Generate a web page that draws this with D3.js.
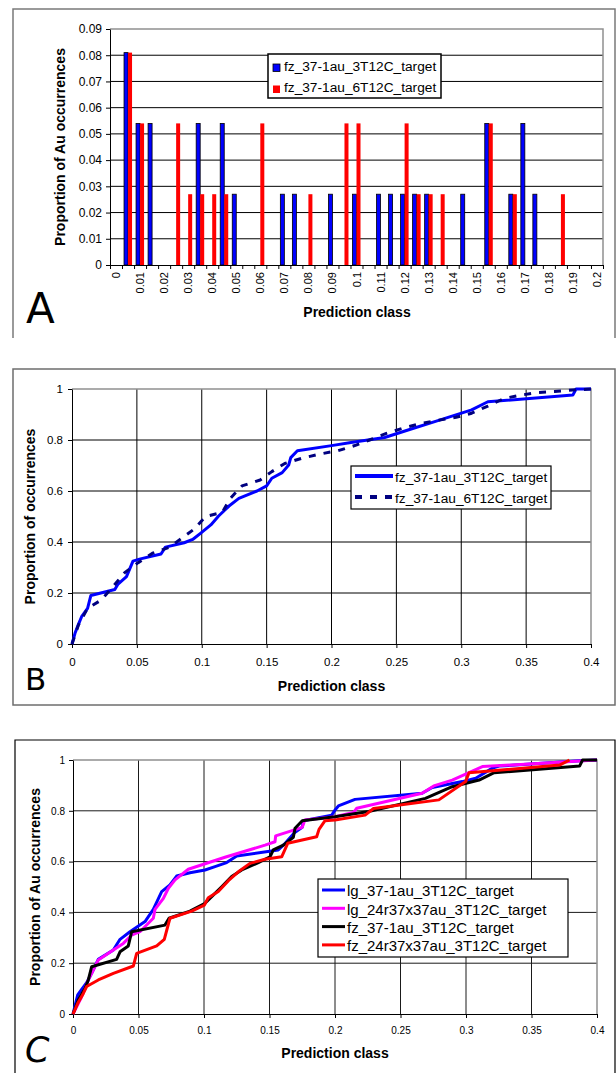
<!DOCTYPE html>
<html>
<head>
<meta charset="utf-8">
<script src="https://cdn.jsdelivr.net/npm/d3@7/dist/d3.min.js"></script>
<style>
body { margin: 0; background: #fff; }
svg { display: block; font-family: Arial, "Liberation Sans", sans-serif; }
.axis text { fill: #000; }
.axis path, .axis line { stroke: #000; }
</style>
</head>
<body>
<svg id="chart" width="616" height="1073"></svg>
<script>
// ---- Panel A : proportion of Au occurrences per prediction class
var classesA = [0, 0.005, 0.01, 0.015, 0.02, 0.025, 0.03, 0.035, 0.04, 0.045,
                0.05, 0.055, 0.06, 0.065, 0.07, 0.075, 0.08, 0.085, 0.09, 0.095,
                0.1, 0.105, 0.11, 0.115, 0.12, 0.125, 0.13, 0.135, 0.14, 0.145,
                0.15, 0.155, 0.16, 0.165, 0.17, 0.175, 0.18, 0.185, 0.19, 0.195, 0.2];
var fz3T12C_A = [0, 0.081, 0.054, 0.054, 0, 0, 0, 0.054, 0, 0.054,
                 0.027, 0, 0, 0, 0.027, 0.027, 0, 0, 0.027, 0,
                 0.027, 0, 0.027, 0.027, 0.027, 0.027, 0.027, 0, 0, 0.027,
                 0, 0.054, 0, 0.027, 0.054, 0.027, 0, 0, 0, 0, 0];
var fz6T12C_A = [0, 0.081, 0.054, 0, 0, 0.054, 0.027, 0.027, 0.027, 0.027,
                 0, 0, 0.054, 0, 0, 0, 0.027, 0, 0, 0.054,
                 0.054, 0, 0, 0, 0.054, 0.027, 0.027, 0.027, 0, 0,
                 0, 0.054, 0, 0.027, 0, 0, 0, 0.027, 0, 0, 0];
var yTicksA = [0, 0.01, 0.02, 0.03, 0.04, 0.05, 0.06, 0.07, 0.08, 0.09];
var seriesA = ["fz_37-1au_3T12C_target", "fz_37-1au_6T12C_target"];

// ---- Panel B : cumulative proportion of occurrences
var fz3T12C_B = [[0,0],[0.0023,0.042],[0.0048,0.075],[0.0074,0.107],[0.012,0.14],[0.0145,0.19],
  [0.033,0.214],[0.0355,0.235],[0.042,0.264],[0.047,0.325],[0.052,0.333],[0.0686,0.353],
  [0.072,0.38],[0.0865,0.397],[0.093,0.41],[0.099,0.434],[0.107,0.467],[0.113,0.502],
  [0.121,0.541],[0.1286,0.571],[0.1426,0.6],[0.15,0.62],[0.154,0.65],[0.162,0.672],
  [0.167,0.702],[0.1686,0.731],[0.1737,0.758],[0.2,0.778],[0.215,0.79],[0.241,0.81],
  [0.259,0.839],[0.282,0.876],[0.308,0.918],[0.3205,0.95],[0.386,0.976],[0.3885,1],[0.4,1]];
var fz6T12C_B = [[0,0],[0.005,0.075],[0.012,0.14],[0.0227,0.173],[0.0316,0.225],[0.0406,0.28],
  [0.051,0.319],[0.062,0.356],[0.075,0.379],[0.094,0.45],[0.103,0.5],[0.1158,0.516],
  [0.122,0.571],[0.131,0.62],[0.145,0.643],[0.154,0.676],[0.164,0.708],[0.177,0.728],
  [0.191,0.745],[0.205,0.758],[0.219,0.78],[0.2308,0.803],[0.2423,0.826],[0.255,0.846],
  [0.269,0.865],[0.283,0.878],[0.296,0.889],[0.308,0.905],[0.3205,0.933],[0.333,0.963],
  [0.346,0.976],[0.359,0.986],[0.372,0.99],[0.386,0.996],[0.4,1]];
var seriesB = ["fz_37-1au_3T12C_target", "fz_37-1au_6T12C_target"];

// ---- Panel C : cumulative proportion of Au occurrences, 4 models
var lg37_C = [[0,0],[0.0036,0.075],[0.0066,0.097],[0.0104,0.123],[0.0142,0.16],[0.0193,0.215],
  [0.0308,0.252],[0.0359,0.294],[0.0435,0.324],[0.055,0.364],[0.0613,0.412],[0.0677,0.482],
  [0.074,0.508],[0.0791,0.543],[0.0893,0.556],[0.1008,0.567],[0.1084,0.58],[0.1173,0.596],
  [0.125,0.622],[0.1567,0.646],[0.162,0.672],[0.169,0.714],[0.175,0.735],[0.1758,0.761],
  [0.1975,0.783],[0.2,0.803],[0.2026,0.819],[0.2153,0.845],[0.2665,0.869],[0.2742,0.892],
  [0.2972,0.915],[0.3074,0.928],[0.3202,0.968],[0.3253,0.976],[0.3867,0.997],[0.4,1]];
var lg24_C = [[0,0],[0.0066,0.068],[0.0117,0.134],[0.0155,0.173],[0.0193,0.213],[0.027,0.239],
  [0.0384,0.278],[0.0448,0.311],[0.0511,0.324],[0.0613,0.377],[0.0626,0.412],[0.069,0.455],
  [0.0728,0.495],[0.0779,0.528],[0.088,0.57],[0.116,0.617],[0.1466,0.665],[0.1542,0.678],
  [0.1547,0.701],[0.175,0.735],[0.177,0.764],[0.2,0.777],[0.2141,0.793],[0.2166,0.81],
  [0.2665,0.869],[0.2754,0.898],[0.2895,0.921],[0.3125,0.974],[0.4,1]];
var fz37_C = [[0,0],[0.004,0.055],[0.0092,0.101],[0.0117,0.134],[0.0142,0.186],[0.0333,0.215],
  [0.0359,0.245],[0.0422,0.268],[0.0448,0.324],[0.0702,0.35],[0.0733,0.377],[0.0893,0.405],
  [0.1008,0.436],[0.1084,0.475],[0.1135,0.501],[0.1211,0.541],[0.1288,0.567],[0.1415,0.596],
  [0.1504,0.619],[0.1529,0.646],[0.1606,0.665],[0.1682,0.696],[0.1695,0.731],[0.175,0.761],
  [0.2,0.777],[0.2256,0.797],[0.269,0.849],[0.2895,0.895],[0.31,0.921],[0.3215,0.95],
  [0.3867,0.976],[0.389,1],[0.4,1]];
var fz24_C = [[0,0],[0.0036,0.042],[0.0079,0.081],[0.0104,0.108],[0.0193,0.134],[0.0308,0.16],
  [0.0461,0.189],[0.0486,0.239],[0.0639,0.268],[0.0697,0.294],[0.074,0.377],[0.0906,0.405],
  [0.1003,0.429],[0.1033,0.458],[0.1109,0.482],[0.1186,0.525],[0.1262,0.56],[0.1351,0.593],
  [0.1466,0.609],[0.1593,0.619],[0.1639,0.672],[0.186,0.698],[0.1878,0.727],[0.1924,0.761],
  [0.2,0.764],[0.223,0.783],[0.2294,0.809],[0.2793,0.843],[0.2997,0.915],[0.3023,0.95],
  [0.3714,0.98],[0.379,1]];
var seriesC = ["lg_37-1au_3T12C_target", "lg_24r37x37au_3T12C_target",
               "fz_37-1au_3T12C_target", "fz_24r37x37au_3T12C_target"];

var xTicksBC = [0, 0.05, 0.1, 0.15, 0.2, 0.25, 0.3, 0.35, 0.4];
var yTicksBC = [0, 0.2, 0.4, 0.6, 0.8, 1];

var svg = d3.select("#chart");
var plotBorder = "#909090";

// ---------------------------------------------------------------- Panel A
var panelA = svg.append("g");

panelA.append("path")
	.attr("d", "M13,338 V9 H615 V338")
	.attr("fill", "none")
	.attr("stroke", "#7a7a7a")
	.attr("stroke-width", 1.5);

var xA = d3.scaleBand()
	.domain(classesA)
	.range([110, 603]);
var xEdgeA = d3.scaleLinear()
	.domain([0, classesA.length])
	.range([110, 603]);
var xSubA = d3.scaleBand()
	.domain([0, 1])
	.range([xA.bandwidth() / 6, xA.bandwidth() * 5 / 6]);
var yA = d3.scaleLinear()
	.domain([0, 0.09])
	.range([265, 29]);

// grid lines
panelA.append("g").selectAll("line")
	.data(yTicksA.slice(1, -1))
	.enter().append("line")
	.attr("x1", 110).attr("x2", 603)
	.attr("y1", function(d) { return yA(d); })
	.attr("y2", function(d) { return yA(d); })
	.attr("stroke", "#000")
	.attr("stroke-width", 1);

panelA.append("path")
	.attr("d", "M110," + yA(0.09) + " H603 V265")
	.attr("fill", "none")
	.attr("stroke", plotBorder)
	.attr("stroke-width", 1.5);

// bars
var barsA = [
	{ values: fz3T12C_A, fill: "#0000ff", stroke: "#000" },
	{ values: fz6T12C_A, fill: "#ff0000", stroke: "none" }
];
barsA.forEach(function(s, si) {
	panelA.append("g").selectAll("rect")
		.data(s.values.map(function(v, i) { return { c: classesA[i], v: v }; })
			.filter(function(d) { return d.v > 0; }))
		.enter().append("rect")
		.attr("x", function(d) { return xA(d.c) + xSubA(si); })
		.attr("y", function(d) { return yA(d.v); })
		.attr("width", xSubA.bandwidth())
		.attr("height", function(d) { return yA(0) - yA(d.v); })
		.attr("fill", s.fill)
		.attr("stroke", s.stroke)
		.attr("stroke-width", 0.8);
});

// axes
panelA.append("g")
	.attr("class", "axis")
	.attr("transform", "translate(110,0)")
	.call(d3.axisLeft(yA).tickValues(yTicksA).tickSize(4).tickSizeOuter(0).tickPadding(4)
		.tickFormat(function(d) { return String(d); }))
	.selectAll("text").style("font-size", "12px");

panelA.append("g")
	.attr("class", "axis")
	.attr("transform", "translate(0,265)")
	.call(d3.axisBottom(xEdgeA).tickValues(d3.range(classesA.length + 1)).tickSize(4)
		.tickSizeOuter(0).tickFormat(""));

panelA.append("g").selectAll("text")
	.data(classesA.filter(function(d, i) { return i % 2 === 0; }))
	.enter().append("text")
	.attr("transform", function(d) {
		return "translate(" + (xA(d) + xA.bandwidth() / 2 + 4) + ",272) rotate(-90)";
	})
	.attr("text-anchor", "end")
	.style("font-size", "11px")
	.text(function(d) { return String(d); });

panelA.append("text")
	.attr("x", 357).attr("y", 317)
	.attr("text-anchor", "middle")
	.style("font-size", "14px").style("font-weight", "bold")
	.text("Prediction class");

panelA.append("text")
	.attr("transform", "translate(64.5,147) rotate(-90)")
	.attr("text-anchor", "middle")
	.style("font-size", "14px").style("font-weight", "bold")
	.text("Proportion of Au occurrences");

// legend
var legA = panelA.append("g");
legA.append("rect")
	.attr("x", 268).attr("y", 54).attr("width", 173).attr("height", 44)
	.attr("fill", "#fff").attr("stroke", "#000").attr("stroke-width", 1.5);
barsA.forEach(function(s, si) {
	legA.append("rect")
		.attr("x", 273).attr("y", 64 + si * 21.5).attr("width", 7).attr("height", 7.5)
		.attr("fill", s.fill).attr("stroke", s.stroke).attr("stroke-width", 0.8);
	legA.append("text")
		.attr("x", 284).attr("y", 71 + si * 21)
		.style("font-size", "13.7px")
		.text(seriesA[si]);
});

panelA.append("text")
	.attr("x", 26).attr("y", 323)
	.style("font-family", "'DejaVu Sans', sans-serif")
	.style("font-size", "42px")
	.text("A");

// ---------------------------------------------------------- Panels B and C
function drawCumulative(g, cfg) {
	var x = d3.scaleLinear().domain([0, 0.4]).range([cfg.left, cfg.right]);
	var y = d3.scaleLinear().domain([0, 1]).range([cfg.bottom, cfg.top]);

	g.append("g").selectAll("line")
		.data(yTicksBC.slice(1, -1))
		.enter().append("line")
		.attr("x1", cfg.left).attr("x2", cfg.right)
		.attr("y1", function(d) { return y(d); })
		.attr("y2", function(d) { return y(d); })
		.attr("stroke", cfg.grid).attr("stroke-width", 1);

	g.append("g").selectAll("line")
		.data(xTicksBC.slice(1, -1))
		.enter().append("line")
		.attr("y1", cfg.top).attr("y2", cfg.bottom)
		.attr("x1", function(d) { return x(d); })
		.attr("x2", function(d) { return x(d); })
		.attr("stroke", cfg.grid).attr("stroke-width", 1);

	g.append("path")
		.attr("d", "M" + cfg.left + "," + cfg.top + " H" + cfg.right + " V" + cfg.bottom)
		.attr("fill", "none")
		.attr("stroke", plotBorder)
		.attr("stroke-width", 1.5);

	var fmt = function(d) { return String(d); };
	g.append("g")
		.attr("class", "axis")
		.attr("transform", "translate(" + cfg.left + ",0)")
		.call(d3.axisLeft(y).tickValues(yTicksBC).tickSize(4).tickSizeOuter(0)
			.tickPadding(cfg.padY).tickFormat(fmt))
		.selectAll("text").style("font-size", cfg.tickFont);

	g.append("g")
		.attr("class", "axis")
		.attr("transform", "translate(0," + cfg.bottom + ")")
		.call(d3.axisBottom(x).tickValues(xTicksBC).tickSize(4).tickSizeOuter(0)
			.tickPadding(cfg.padX).tickFormat(fmt))
		.selectAll("text").style("font-size", cfg.tickFont);

	var line = d3.line()
		.x(function(d) { return x(d[0]); })
		.y(function(d) { return y(d[1]); });

	cfg.series.forEach(function(s) {
		g.append("path")
			.datum(s.values)
			.attr("d", line)
			.attr("fill", "none")
			.attr("stroke", s.color)
			.attr("stroke-width", 3)
			.attr("stroke-linejoin", "round")
			.attr("stroke-dasharray", s.dash || null);
	});

	g.append("text")
		.attr("x", (cfg.left + cfg.right) / 2).attr("y", cfg.titleY)
		.attr("text-anchor", "middle")
		.style("font-size", "14px").style("font-weight", "bold")
		.text("Prediction class");

	g.append("text")
		.attr("transform", "translate(" + cfg.yTitleX + "," + (cfg.top + cfg.bottom) / 2 + ") rotate(-90)")
		.attr("text-anchor", "middle")
		.style("font-size", "14px").style("font-weight", "bold")
		.text(cfg.yTitle);

	var lg = cfg.legend;
	g.append("rect")
		.attr("x", lg.x).attr("y", lg.y).attr("width", lg.w).attr("height", lg.h)
		.attr("fill", "#fff").attr("stroke", "#000").attr("stroke-width", 1.2);
	cfg.series.forEach(function(s, i) {
		var ly = lg.y + lg.first + i * lg.step;
		g.append("line")
			.attr("x1", lg.x + 4).attr("x2", lg.x + 4 + lg.sample)
			.attr("y1", ly).attr("y2", ly)
			.attr("stroke", s.color).attr("stroke-width", lg.sampleWidth)
			.attr("stroke-dasharray", s.dash || null);
		g.append("text")
			.attr("x", lg.x + 6 + lg.sample).attr("y", ly + lg.font * 0.42)
			.style("font-size", lg.font + "px")
			.text(s.name);
	});
}

// Panel B
var panelB = svg.append("g");
panelB.append("rect")
	.attr("x", 13).attr("y", 369).attr("width", 602).attr("height", 336)
	.attr("fill", "none").attr("stroke", "#6e6e6e").attr("stroke-width", 1.5);

drawCumulative(panelB, {
	left: 72, right: 591, top: 389, bottom: 644,
	grid: "#000", tickFont: "11.5px", padY: 5, padX: 10,
	titleY: 691, yTitleX: 34.5, yTitle: "Proportion of occurrences",
	series: [
		{ name: seriesB[0], values: fz3T12C_B, color: "#0000ff" },
		{ name: seriesB[1], values: fz6T12C_B, color: "#000080", dash: "7,8" }
	],
	legend: { x: 351, y: 466, w: 200, h: 43, first: 10, step: 21, sample: 38,
		sampleWidth: 4, font: 13.7 }
});

panelB.append("text")
	.attr("x", 25).attr("y", 690)
	.style("font-family", "'DejaVu Sans', sans-serif")
	.style("font-size", "31px")
	.text("B");

// Panel C
var panelC = svg.append("g");
panelC.append("path")
	.attr("d", "M15,1073 V740 H615 V1073")
	.attr("fill", "none").attr("stroke", "#000").attr("stroke-width", 1.2);

drawCumulative(panelC, {
	left: 73, right: 597, top: 760, bottom: 1014,
	grid: "#1a1a1a", tickFont: "10px", padY: 4, padX: 9,
	titleY: 1058, yTitleX: 40, yTitle: "Proportion of Au occurrences",
	series: [
		{ name: seriesC[0], values: lg37_C, color: "#0000ff" },
		{ name: seriesC[1], values: lg24_C, color: "#ff00ff" },
		{ name: seriesC[2], values: fz37_C, color: "#000000" },
		{ name: seriesC[3], values: fz24_C, color: "#ff0000" }
	],
	legend: { x: 318, y: 879, w: 250, h: 78, first: 11, step: 18.3, sample: 23,
		sampleWidth: 3, font: 15 }
});

panelC.append("text")
	.attr("x", 25).attr("y", 1062)
	.style("font-family", "'DejaVu Sans', sans-serif")
	.style("font-style", "italic")
	.style("font-size", "35px")
	.text("C");
</script>
</body>
</html>
